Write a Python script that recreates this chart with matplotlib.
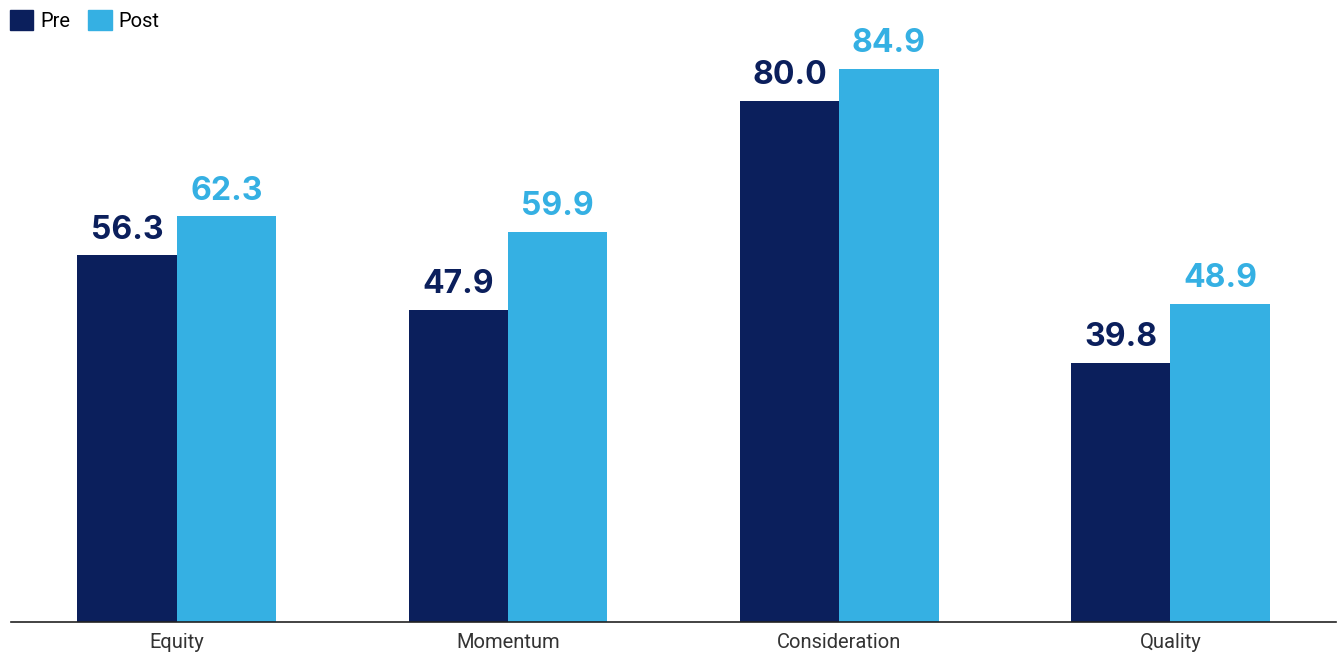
import matplotlib.pyplot as plt
import numpy as np
from matplotlib.patches import Patch

categories = ["Equity", "Momentum", "Consideration", "Quality"]
pre = [56.3, 47.9, 80.0, 39.8]
post = [62.3, 59.9, 84.9, 48.9]

pre_color = "#0b1f5c"
post_color = "#35b0e3"

plt.rcParams["font.family"] = ["Roboto", "DejaVu Sans"]

fig = plt.figure(figsize=(13.38, 6.55), dpi=100)
ax = fig.add_axes([11 / 1338, 33 / 655, 1325 / 1338, 586 / 655])

x = np.arange(len(categories))
w = 0.3
b1 = ax.bar(x - w / 2, pre, w, color=pre_color)
b2 = ax.bar(x + w / 2, post, w, color=post_color)

for bars, vals, c in [(b1, pre, pre_color), (b2, post, post_color)]:
    for bar, v in zip(bars, vals):
        ax.annotate(f"{v:.1f}", (bar.get_x() + bar.get_width() / 2, v),
                    xytext=(0, 7), textcoords="offset points",
                    ha="center", va="bottom", fontsize=23, fontweight="bold",
                    color=c, family=["Inter", "DejaVu Sans"])

ax.set_xlim(-0.5, 3.5)
ax.set_ylim(0, 90)
ax.set_xticks(x)
ax.set_xticklabels(categories, fontsize=14.5, color="#333333")
ax.tick_params(axis="x", length=0, pad=8)
ax.set_yticks([])
for s in ["top", "right", "left"]:
    ax.spines[s].set_visible(False)
ax.spines["bottom"].set_color("#222222")
ax.spines["bottom"].set_linewidth(1.2)

handles = [Patch(color=pre_color, label="Pre"), Patch(color=post_color, label="Post")]
fig.legend(handles=handles, loc="upper left", bbox_to_anchor=(0.0, 1.0),
           ncol=2, frameon=False, fontsize=14.5, handlelength=1.15, handleheight=1.15,
           handletextpad=0.35, columnspacing=0.9, borderaxespad=0.1)

fig.savefig("out.png", dpi=100)
